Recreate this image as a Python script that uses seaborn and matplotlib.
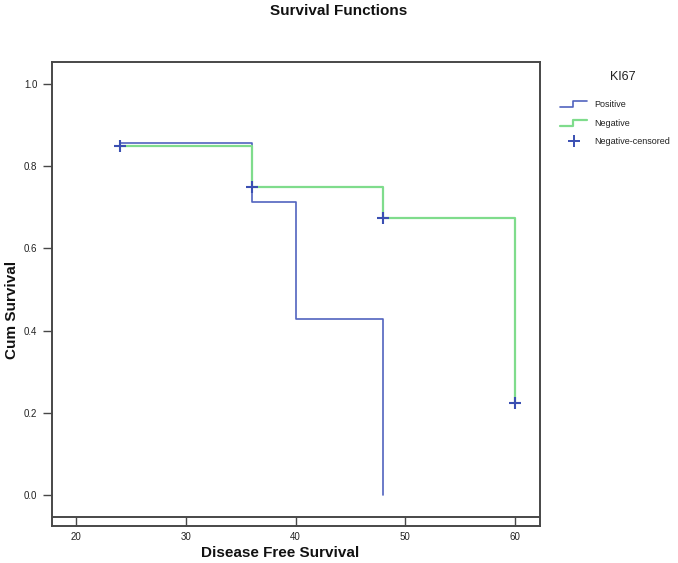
import matplotlib
matplotlib.use("Agg")
import matplotlib.pyplot as plt
import pandas as pd
import seaborn as sns
from matplotlib.legend_handler import HandlerBase
from matplotlib.lines import Line2D

# Kaplan-Meier steps (time of step, survival from that time on)
pos_time = [24, 36, 40, 48]
pos_surv = [0.857, 0.714, 0.429, 0.0]
neg_time = [24, 36, 48, 60]
neg_surv = [0.85, 0.75, 0.675, 0.225]
# censored marks on the Negative curve
cens_time = [24, 36, 48, 60]
cens_surv = [0.85, 0.75, 0.675, 0.225]

x_ticks = [20, 30, 40, 50, 60]
y_ticks = [0.0, 0.2, 0.4, 0.6, 0.8, 1.0]

BLUE = "#5263bf"
GREEN = "#7fdc8c"
MARK = "#3a4fb2"
FRAME = "#474747"

sns.set_theme(style="white")
plt.rcParams["font.family"] = ["Liberation Sans", "DejaVu Sans"]


class StepHandler(HandlerBase):
    def create_artists(self, legend, orig_handle, xdescent, ydescent,
                       width, height, fontsize, trans):
        x0 = -xdescent
        xm = x0 + width * 0.47
        y0 = -ydescent + height * 0.0
        y1 = -ydescent + height * 0.95
        line = Line2D([x0, xm, xm, x0 + width], [y0, y0, y1, y1],
                      color=orig_handle.get_color(), lw=orig_handle.get_linewidth())
        line.set_transform(trans)
        return [line]


fig = plt.figure(figsize=(6.78, 5.63), dpi=100)
ax = fig.add_axes([0.0767, 0.0657, 0.7198, 0.8242])

pos = pd.DataFrame({"time": pos_time, "surv": pos_surv})
neg = pd.DataFrame({"time": neg_time, "surv": neg_surv})
cens = pd.DataFrame({"time": cens_time, "surv": cens_surv})

sns.lineplot(data=pos, x="time", y="surv", ax=ax, color=BLUE, lw=1.2,
             drawstyle="steps-post", estimator=None, sort=True)
sns.lineplot(data=neg, x="time", y="surv", ax=ax, color=GREEN, lw=1.6,
             drawstyle="steps-post", estimator=None, sort=True)
sns.scatterplot(data=cens, x="time", y="surv", ax=ax, marker="+", s=70,
                color=MARK, linewidth=1.5, zorder=5)

ax.set_xlim(17.81, 62.28)
ax.set_ylim(-0.0754, 1.0535)
ax.axhline(-0.0535, color=FRAME, lw=1.4)

ax.set_xticks(x_ticks)
ax.set_xticklabels([str(t) for t in x_ticks])
ax.set_yticks(y_ticks)
ax.set_yticklabels([f"{t:.1f}" for t in y_ticks])
ax.tick_params(axis="x", direction="in", length=6.5, width=1.0, colors=FRAME,
               labelcolor="#222222", labelsize=7, pad=4)
ax.tick_params(axis="y", direction="out", length=6.5, width=1.0, colors=FRAME,
               labelcolor="#222222", labelsize=7, pad=4)
ax.tick_params(left=True, bottom=True)
for sp in ax.spines.values():
    sp.set_visible(True)
    sp.set_color(FRAME)
    sp.set_linewidth(1.4)
ax.set_xlabel("")
ax.set_ylabel("")
ax.grid(False)

fig.text(0.5, 0.993, "Survival Functions", ha="center", va="top",
         fontsize=11, fontweight="bold", color="#111111")
fig.text(0.413, 0.018, "Disease Free Survival", ha="center", va="center",
         fontsize=11, fontweight="bold", color="#111111")
fig.text(0.018, 0.449, "Cum Survival", ha="center", va="center", rotation=90,
         fontsize=11, fontweight="bold", color="#111111")
fig.text(623 / 678, 1 - 77 / 563, "KI67", ha="center", va="center",
         fontsize=9, color="#222222")

h_pos = Line2D([], [], color=BLUE, lw=1.2)
h_neg = Line2D([], [], color=GREEN, lw=1.6)
h_cens = Line2D([], [], color=MARK, marker="+", markersize=8, lw=0,
                markeredgewidth=1.4)
leg = fig.legend([h_pos, h_neg, h_cens], ["Positive", "Negative", "Negative-censored"],
                 handler_map={h_pos: StepHandler(), h_neg: StepHandler()},
                 loc="upper left", bbox_to_anchor=(0.826, 0.822), frameon=False,
                 fontsize=6.5, handlelength=3.0, handletextpad=0.8,
                 labelspacing=1.05, borderpad=0, borderaxespad=0)
for t in leg.get_texts():
    t.set_color("#222222")

fig.savefig("out.png", dpi=100)
